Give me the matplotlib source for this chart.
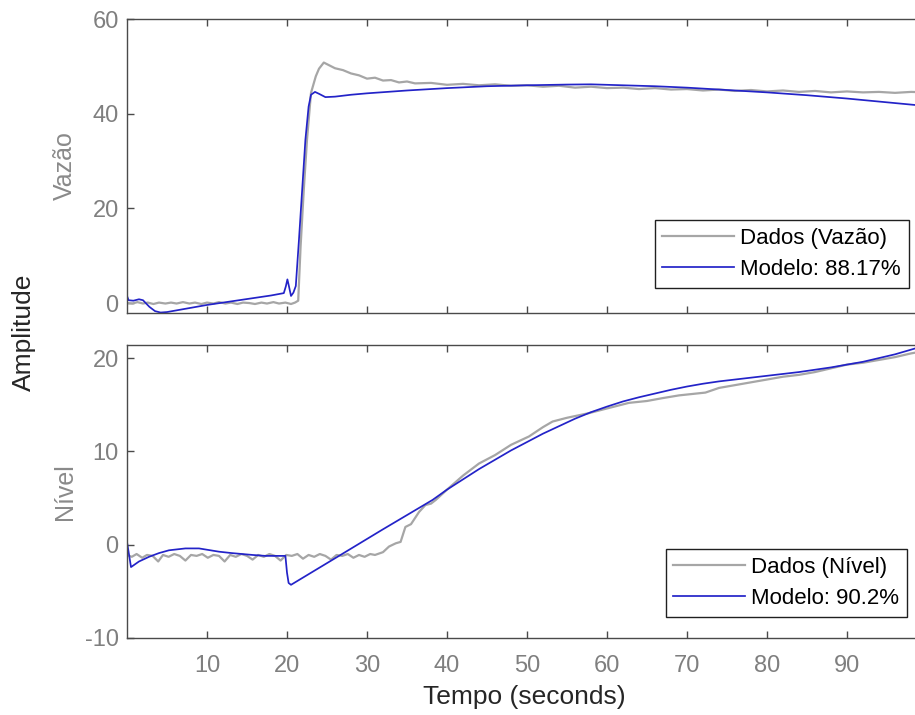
import matplotlib
matplotlib.use("Agg")
import matplotlib.pyplot as plt

vazao_t = [0, 0.7, 1.3, 2, 2.6, 3.3, 4, 4.8, 5.5, 6.2, 7, 7.8, 8.5, 9.3, 10, 10.8, 11.5, 12.3,
           13, 13.8, 14.5, 15.3, 16, 16.8, 17.5, 18.3, 19, 19.8, 20.5, 21, 21.4, 21.7, 22.1, 22.5,
           23, 23.6, 24, 24.6, 25.3, 26, 27, 28, 29, 30, 31, 32, 33, 34, 35, 36, 38, 40, 42, 44,
           46, 48, 50, 52, 54, 56, 58, 60, 62, 64, 66, 68, 70, 72, 74, 76, 78, 80, 82, 84, 86,
           88, 90, 92, 94, 96, 98, 100]
vazao_dados = [0.0, -0.1, 0.2, -0.1, 0.1, -0.2, 0.1, -0.1, 0.1, -0.1, 0.2, -0.1, 0.1, -0.2, 0.1,
               -0.1, 0.2, -0.1, 0.1, -0.2, 0.1, 0.0, -0.2, 0.1, -0.1, 0.2, -0.1, 0.1, -0.2, 0.1,
               0.5, 12.0, 24.0, 34.5, 44.4, 47.9, 49.5, 50.8, 50.2, 49.6, 49.2, 48.5, 48.1, 47.4,
               47.6, 47.0, 47.1, 46.6, 46.8, 46.4, 46.5, 46.1, 46.3, 46.0, 46.2, 45.9, 46.0, 45.7,
               45.9, 45.5, 45.7, 45.4, 45.5, 45.2, 45.4, 45.1, 45.2, 44.9, 45.1, 44.8, 45.0, 44.7,
               44.9, 44.6, 44.8, 44.5, 44.7, 44.5, 44.6, 44.4, 44.6, 44.5]

# Vazao (top) - model output
vazao_mod_t = [0, 0.2, 0.8, 1.5, 2, 2.8, 3.5, 4.2, 5, 6, 8, 10, 12, 14, 16, 18, 19.6, 19.85,
               20.05, 20.25, 20.5, 20.8, 21.1, 21.5, 21.9, 22.3, 22.7, 23, 23.5, 24, 24.8, 26,
               28, 30, 35, 40, 45, 50, 55, 58, 62, 66, 70, 75, 80, 85, 90, 95, 100]
vazao_modelo = [1.5, 0.6, 0.5, 0.8, 0.6, -0.8, -1.7, -2.0, -1.9, -1.6, -1.0, -0.4, 0.1, 0.6,
                1.1, 1.6, 2.1, 3.5, 5.0, 3.5, 1.5, 2.2, 3.6, 13.5, 24.0, 34.5, 41.5, 44.0, 44.6,
                44.2, 43.5, 43.6, 44.0, 44.3, 44.9, 45.4, 45.8, 46.0, 46.15, 46.2, 46.0, 45.8,
                45.5, 45.0, 44.5, 43.9, 43.2, 42.4, 41.6]

# Nivel (bottom) - measured data
nivel_t = [0, 0.6, 1.2, 1.9, 2.5, 3.2, 3.9, 4.5, 5.2, 5.9, 6.6, 7.3, 8.0, 8.7, 9.4, 10.1, 10.8,
           11.5, 12.2, 12.9, 13.6, 14.3, 15.0, 15.7, 16.4, 17.1, 17.8, 18.5, 19.2, 19.9, 20.6,
           21.3, 22.0, 22.7, 23.4, 24.1, 24.8, 25.5, 26.2, 26.9, 27.6, 28.3, 29.0, 29.7, 30.4,
           31.0, 32.0, 32.75, 33.6, 34.2, 34.8, 35.5, 36.5, 37.3, 38.0, 38.6, 40, 42, 44, 46,
           48, 50.25, 52, 53.2, 55, 57.75, 60, 62.75, 65, 66.9, 69, 72.3, 74, 76, 78, 80, 82,
           84, 86, 88, 90, 92, 94, 96, 98, 100]
nivel_dados = [-1.1, -1.3, -1.0, -1.4, -1.1, -1.2, -1.8, -1.1, -1.3, -1.0, -1.2, -1.7, -1.1,
               -1.2, -1.0, -1.4, -1.1, -1.2, -1.8, -1.1, -1.3, -1.0, -1.2, -1.6, -1.1, -1.3,
               -1.0, -1.2, -1.7, -1.1, -1.2, -1.0, -1.5, -1.1, -1.3, -1.0, -1.2, -1.6, -1.1,
               -1.2, -1.0, -1.4, -1.1, -1.3, -1.0, -1.1, -0.8, -0.2, 0.15, 0.3, 1.9, 2.2, 3.5,
               4.25, 4.4, 4.8, 5.9, 7.4, 8.7, 9.6, 10.7, 11.6, 12.6, 13.2, 13.6, 14.1, 14.6, 15.2,
               15.4, 15.7, 16.0, 16.3, 16.8, 17.1, 17.4, 17.7, 18.0, 18.2, 18.5, 18.9, 19.3, 19.5,
               19.8, 20.1, 20.5, 20.8]

# Nivel (bottom) - model output
nivel_mod_t = [0, 0.5, 1.5, 2.75, 4, 5.25, 7.3, 9, 11.5, 13.1, 15.7, 17.3, 19.8, 20.0, 20.2,
               20.5, 26.5, 31.9, 38.2, 40, 42, 44, 46, 48, 50, 52, 54, 56, 58, 60, 62, 64, 66,
               68, 70, 72, 74, 76, 78, 80, 82, 84, 86, 88, 90, 92, 94, 96, 98, 100]
nivel_modelo = [0.3, -2.4, -1.8, -1.3, -0.9, -0.6, -0.4, -0.4, -0.75, -0.9, -1.1, -1.2, -1.2,
                -3.0, -4.1, -4.3, -1.2, 1.6, 4.8, 5.9, 7.0, 8.1, 9.1, 10.1, 11.0, 11.9, 12.7,
                13.5, 14.2, 14.8, 15.35, 15.8, 16.2, 16.6, 16.95, 17.25, 17.5, 17.7, 17.9, 18.1,
                18.3, 18.5, 18.75, 19.0, 19.3, 19.6, 20.0, 20.4, 20.9, 21.4]

legend_top = ["Dados (Vazão)", "Modelo: 88.17%"]
legend_bottom = ["Dados (Nível)", "Modelo: 90.2%"]
x_ticks = [10, 20, 30, 40, 50, 60, 70, 80, 90]

GRAY = "#a6a6a6"
BLUE = "#2323c8"
TICK_GRAY = "#7f7f7f"


def style_axes(ax, yticks):
    ax.set_xlim(0, 100)
    ax.set_xticks(x_ticks)
    ax.set_yticks(yticks)
    for s in ax.spines.values():
        s.set_color("#4a4a4a")
        s.set_linewidth(1.0)
    ax.tick_params(direction="in", length=5, width=1.0, color="#4a4a4a",
                   labelcolor=TICK_GRAY, labelsize=17, top=True, right=True)
    ax.tick_params(axis="x", pad=12)
    ax.tick_params(axis="y", pad=6)


def main():
    plt.rcParams["font.family"] = ["Liberation Sans", "DejaVu Sans"]
    plt.rcParams["axes.unicode_minus"] = False
    W, H = 915, 715
    fig = plt.figure(figsize=(W / 100, H / 100), dpi=100)

    # axes reach past the right edge, as in the cropped screenshot
    ax1 = fig.add_axes([127 / W, (H - 313) / H, 800 / W, 294 / H])
    ax2 = fig.add_axes([127 / W, (H - 638) / H, 800 / W, 293 / H])

    ax1.plot(vazao_t, vazao_dados, color=GRAY, lw=1.6, label=legend_top[0])
    ax1.plot(vazao_mod_t, vazao_modelo, color=BLUE, lw=1.25, label=legend_top[1])
    ax1.set_ylim(-2.1, 60)
    style_axes(ax1, [0, 20, 40, 60])
    ax1.tick_params(labelbottom=False)
    ax1.set_ylabel("Vazão", color="#8a8a8a", fontsize=18)
    ax1.yaxis.set_label_coords(-0.063, 0.5)

    ax2.plot(nivel_t, nivel_dados, color=GRAY, lw=1.6, label=legend_bottom[0])
    ax2.plot(nivel_mod_t, nivel_modelo, color=BLUE, lw=1.25, label=legend_bottom[1])
    ax2.set_ylim(-10, 21.4)
    style_axes(ax2, [-10, 0, 10, 20])
    ax2.set_ylabel("Nível", color="#8a8a8a", fontsize=18)
    ax2.yaxis.set_label_coords(-0.063, 0.5)

    for ax, anchor in [(ax1, (0.977, 0.085)), (ax2, (0.975, 0.072))]:
        leg = ax.legend(loc="lower right", bbox_to_anchor=anchor, borderaxespad=0,
                        fontsize=16, fancybox=False, framealpha=1, edgecolor="#202020",
                        handlelength=3.2, handletextpad=0.3, borderpad=0.35,
                        labelspacing=0.45)
        leg.get_frame().set_linewidth(1.0)

    fig.text(24 / W, 1 - 332 / H, "Amplitude", rotation=90, ha="center", va="center",
             fontsize=19, color="#262626")
    fig.text(524 / W, 1 - 697 / H, "Tempo (seconds)", ha="center", va="center",
             fontsize=19, color="#262626")

    fig.savefig("out.png", dpi=100)


if __name__ == "__main__":
    main()
